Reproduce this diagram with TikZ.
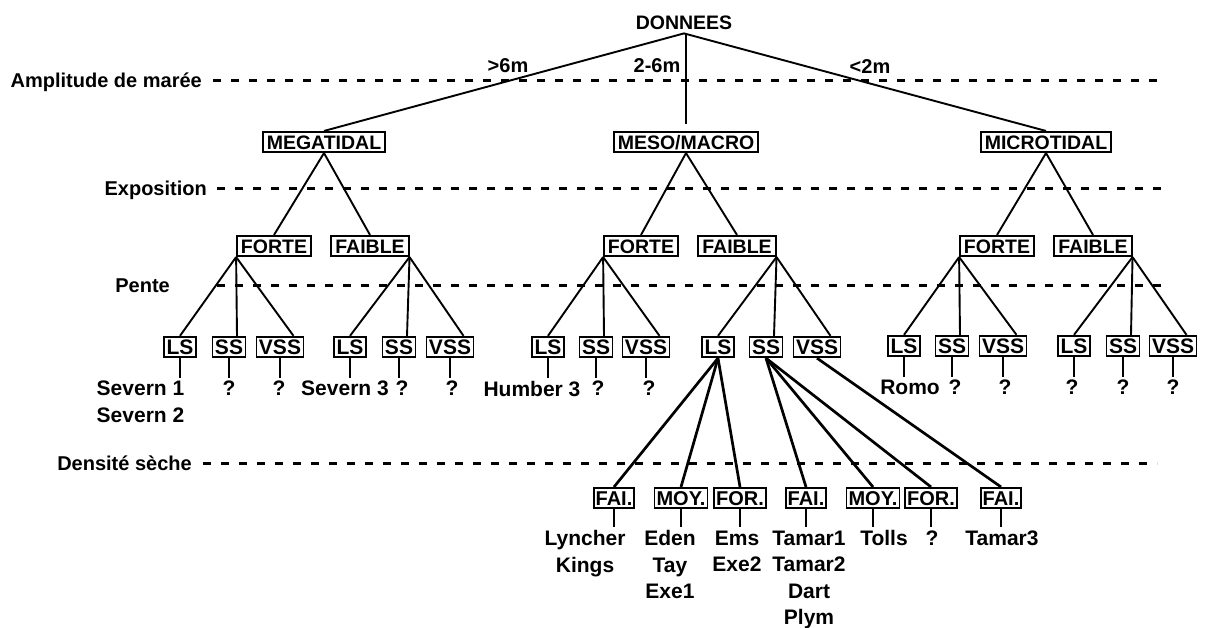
\documentclass[tikz,border=0pt]{standalone}
\usepackage{fontspec}
\setmainfont{Liberation Sans}
\begin{document}
\begin{tikzpicture}[x=1pt,y=-1pt,
  bx/.style={draw, line width=1.7pt, font=\fontsize{19.5}{19.5}\selectfont\bfseries, inner xsep=4pt, inner ysep=3.2pt, text height=14pt, text depth=0pt},
  mbx/.style={bx, font=\fontsize{21}{21}\selectfont\bfseries, inner xsep=2.5pt, inner ysep=2.8pt, text height=15pt},
  sbx/.style={bx, font=\fontsize{20}{20}\selectfont\bfseries, inner xsep=2pt, inner ysep=3pt, text height=14.4pt},
  lbl/.style={font=\fontsize{20}{24}\selectfont\bfseries, inner sep=0pt, anchor=base east},
  brl/.style={font=\fontsize{20}{24}\selectfont\bfseries, inner sep=0pt, anchor=base},
  leaf/.style={font=\fontsize{21}{26.5}\selectfont\bfseries, align=center, inner xsep=0pt, inner ysep=3.5pt, anchor=north},
  dashln/.style={line width=3pt, dash pattern=on 8pt off 10pt},
  conn/.style={line width=1.9pt},
  thk/.style={line width=2.7pt},
  tick/.style={line width=2.1pt}]
\useasboundingbox (0,0) rectangle (1207,627);

% ---------- level labels and dashed lines ----------
\node[lbl] (lamp) at (202,87) {Amplitude de marée};
\node[lbl] (lexp) at (207,195) {Exposition};
\node[lbl] (lpen) at (170,292) {Pente};
\node[lbl] (lden) at (192,470) {Densité sèche};
\coordinate (d1s) at (213,80);  \coordinate (d1e) at (1163,80);
\coordinate (d2s) at (217,188); \coordinate (d2e) at (1168,188);
\coordinate (d3s) at (217,285); \coordinate (d3e) at (1167,285);
\coordinate (d4s) at (203,463); \coordinate (d4e) at (1157,463);
\draw[dashln] (d1s) -- (d1e);
\draw[dashln] (d2s) -- (d2e);
\draw[dashln] (d3s) -- (d3e);
\draw[dashln] (d4s) -- (d4e);

% ---------- root ----------
\node[font=\fontsize{19.5}{20}\selectfont\bfseries, inner xsep=0pt, inner ysep=4pt, anchor=base] (don) at (684,29) {DONNEES};
\node[brl] (l6) at (508,72) {>6m};
\node[brl] (l26) at (657,72) {2-6m};
\node[brl] (l2) at (870,73) {<2m};

% ---------- level 1 ----------
\node[bx] (meg) at (324,142) {MEGATIDAL};
\node[bx] (mes) at (686,142) {MESO/MACRO};
\node[bx] (mic) at (1046,142) {MICROTIDAL};
\draw[conn] (don.south) -- (meg.north);
\draw[conn, shorten >=7pt] (mes.north |- don.south) -- (mes.north);
\draw[conn] (don.south) -- (mic.north);

% ---------- level 2 ----------
\node[bx] (afo) at (274,246) {FORTE};
\node[bx] (afa) at (370,246) {FAIBLE};
\node[bx] (bfo) at (641,246) {FORTE};
\node[bx] (bfa) at (737,246) {FAIBLE};
\node[bx] (cfo) at (997,246) {FORTE};
\node[bx] (cfa) at (1093,246) {FAIBLE};
\draw[conn] (meg.south) -- (afo.north);
\draw[conn] (meg.south) -- (afa.north);
\draw[conn] (mes.south) -- (bfo.north);
\draw[conn] (mes.south) -- (bfa.north);
\draw[conn] (mic.south) -- (cfo.north);
\draw[conn] (mic.south) -- (cfa.north);

% ---------- level 3 ----------
\node[mbx] (als1) at (180,347) {LS};
\node[mbx] (ass1) at (229,347) {SS};
\node[mbx] (avs1) at (280,347) {VSS};
\node[mbx] (als2) at (350,347) {LS};
\node[mbx] (ass2) at (399,347) {SS};
\node[mbx] (avs2) at (450,347) {VSS};
\node[mbx] (bls1) at (548,347) {LS};
\node[mbx] (bss1) at (596,347) {SS};
\node[mbx] (bvs1) at (646,347) {VSS};
\node[mbx] (bls2) at (718,347) {LS};
\node[mbx] (bss2) at (766,347) {SS};
\node[mbx] (bvs2) at (817,347) {VSS};
\node[mbx] (cls1) at (904,346) {LS};
\node[mbx] (css1) at (952,346) {SS};
\node[mbx] (cvs1) at (1003,346) {VSS};
\node[mbx] (cls2) at (1074,346) {LS};
\node[mbx] (css2) at (1123,346) {SS};
\node[mbx] (cvs2) at (1173,346) {VSS};

\draw[conn] (afo.south west) -- (als1.north);
\draw[conn] (afo.south west) -- ([xshift=8pt]ass1.north);
\draw[conn] (afo.south west) -- ([xshift=13.5pt]avs1.north);
\draw[conn] (afa.south east) -- (als2.north);
\draw[conn] (afa.south east) -- ([xshift=8pt]ass2.north);
\draw[conn] (afa.south east) -- ([xshift=13.5pt]avs2.north);
\draw[conn] (bfo.south west) -- (bls1.north);
\draw[conn] (bfo.south west) -- ([xshift=8pt]bss1.north);
\draw[conn] (bfo.south west) -- ([xshift=13.5pt]bvs1.north);
\draw[conn] (bfa.south east) -- (bls2.north);
\draw[conn] (bfa.south east) -- ([xshift=8pt]bss2.north);
\draw[conn] (bfa.south east) -- ([xshift=13.5pt]bvs2.north);
\draw[conn] (cfo.south west) -- (cls1.north);
\draw[conn] (cfo.south west) -- ([xshift=8pt]css1.north);
\draw[conn] (cfo.south west) -- ([xshift=13.5pt]cvs1.north);
\draw[conn] (cfa.south east) -- (cls2.north);
\draw[conn] (cfa.south east) -- ([xshift=8pt]css2.north);
\draw[conn] (cfa.south east) -- ([xshift=13.5pt]cvs2.north);

% ---------- upper leaves ----------
\node[leaf, align=left] (tals1) at (140.5,377.5) {Severn 1\\Severn 2};
\node[leaf] (tass1) at (229,377.5) {?};
\node[leaf] (tavs1) at (279,377.5) {?};
\node[leaf] (tals2) at (345,377.5) {Severn 3};
\node[leaf] (tass2) at (402,377.5) {?};
\node[leaf] (tavs2) at (452,377.5) {?};
\node[leaf] (tbls1) at (532,377.5) {Humber 3};
\node[leaf] (tbss1) at (598,377.5) {?};
\node[leaf] (tbvs1) at (649,377.5) {?};
\node[leaf] (tcls1) at (910,376.5) {Romo};
\node[leaf] (tcss1) at (955,376.5) {?};
\node[leaf] (tcvs1) at (1005,376.5) {?};
\node[leaf] (tcls2) at (1072,376.5) {?};
\node[leaf] (tcss2) at (1123,376.5) {?};
\node[leaf] (tcvs2) at (1173,376.5) {?};
\foreach \b in {als1,ass1,avs1,als2,ass2,avs2,bls1,bss1,bvs1,cls1,css1,cvs1,cls2,css2,cvs2}
  \draw[tick] (\b.south) -- (\b.south |- t\b.north);

% ---------- density level ----------
\node[sbx] (e1) at (614,498) {FAI.};
\node[sbx] (e2) at (681,498) {MOY.};
\node[sbx] (e3) at (740,498) {FOR.};
\node[sbx] (e4) at (806,498) {FAI.};
\node[sbx] (e5) at (873,498) {MOY.};
\node[sbx] (e6) at (931,498) {FOR.};
\node[sbx] (e7) at (1001,498) {FAI.};
\draw[thk] (bls2.south) -- (e1.north);
\draw[thk] (bls2.south) -- (e2.north);
\draw[thk] (bls2.south) -- (e3.north);
\draw[thk] (bss2.south) -- (e4.north);
\draw[thk] (bss2.south) -- (e5.north);
\draw[thk] (bss2.south) -- (e6.north);
\draw[thk] (bvs2.south) -- (e7.north);

\node[leaf] (te1) at (585,527) {Lyncher\\Kings};
\node[leaf] (te2) at (670,527) {Eden\\Tay\\Exe1};
\node[leaf] (te3) at (737,527) {Ems\\Exe2};
\node[leaf] (te4) at (809,527) {Tamar1\\Tamar2\\Dart\\Plym};
\node[leaf] (te5) at (884,527) {Tolls};
\node[leaf] (te6) at (932,527) {?};
\node[leaf] (te7) at (1002,527) {Tamar3};
\foreach \b in {e1,e2,e3,e4,e5,e6,e7}
  \draw[tick] (\b.south) -- (\b.south |- t\b.north);
\end{tikzpicture}
\end{document}
